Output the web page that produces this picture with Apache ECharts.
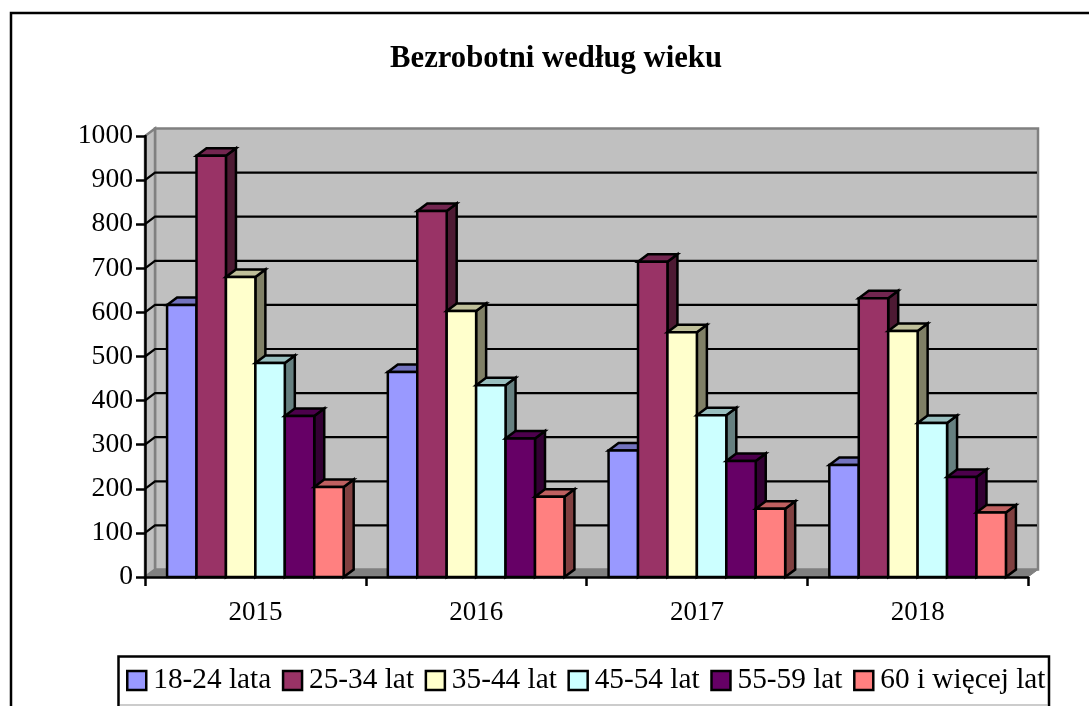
<!DOCTYPE html>
<html>
<head>
<meta charset="utf-8">
<style>
html, body { margin: 0; padding: 0; background: #fff; }
#chart { width: 1089px; height: 706px; }
</style>
<script src="https://cdn.jsdelivr.net/npm/echarts@6/dist/echarts.min.js"></script>
</head>
<body>
<div id="chart"></div>
<script>
var years = ['2015', '2016', '2017', '2018'];
var seriesNames = ['18-24 lata', '25-34 lat', '35-44 lat', '45-54 lat', '55-59 lat', '60 i więcej lat'];
var age18 = [617, 465, 287, 254];
var age25 = [955, 830, 715, 632];
var age35 = [680, 603, 555, 558];
var age45 = [485, 435, 367, 349];
var age55 = [365, 314, 263, 227];
var age60 = [204, 182, 155, 146];
var gridLevels = [100, 200, 300, 400, 500, 600, 700, 800, 900];

var seriesValues = [age18, age25, age35, age45, age55, age60];
var frontColors = ['#9999FF', '#993366', '#FFFFCC', '#CCFFFF', '#660066', '#FF8080'];
var topColors = ['#7373BF', '#732650', '#BFBF99', '#99BFBF', '#4D004D', '#BF6060'];
var sideColors = ['#4D4D80', '#4D1A33', '#808066', '#668080', '#330033', '#804040'];

var FONT = '"Liberation Serif", "Times New Roman", serif';
var DX = 10, DY = -7.5; // 3d depth
var GAP = 1.5; // gap width, in bars

function poly(points, fill, stroke, width) {
	return {
		type: 'polygon',
		shape: { points: points },
		style: { fill: fill, stroke: stroke, lineWidth: width, lineJoin: 'miter' }
	};
}

function renderWalls(params, api) {
	var cs = params.coordSys;
	var l = cs.x, r = cs.x + cs.width, t = cs.y, b = cs.y + cs.height;
	var kids = [
		poly([[l + DX, t + DY], [r + DX, t + DY], [r + DX, b + DY], [l + DX, b + DY]], '#C0C0C0', '#808080', 2.5),
		poly([[l, b], [l + DX, b + DY], [l + DX, t + DY], [l, t]], '#C0C0C0', '#808080', 2.5),
		poly([[l, b], [r, b], [r + DX, b + DY], [l + DX, b + DY]], '#808080', '#808080', 1)
	];
	gridLevels.forEach(function (v) {
		var y = api.coord([0, v])[1];
		kids.push({
			type: 'polyline',
			shape: { points: [[l, y], [l + DX, y + DY], [r + DX - 1, y + DY]] },
			style: { fill: null, stroke: '#000', lineWidth: 2.2 }
		});
	});
	return { type: 'group', children: kids };
}

function renderBar(s) {
	return function (params, api) {
		var band = api.size([1, 0])[0];
		var barW = band / (seriesNames.length + GAP);
		var center = api.coord([api.value(0), 0])[0];
		var x0 = center - band / 2 + barW * (GAP / 2 + s);
		var x1 = x0 + barW;
		var y0 = api.coord([0, 0])[1];
		var y1 = api.coord([0, api.value(1)])[1];
		return {
			type: 'group',
			children: [
				poly([[x1, y0], [x1 + DX, y0 + DY], [x1 + DX, y1 + DY], [x1, y1]], sideColors[s], '#000', 2.5),
				poly([[x0, y1], [x1, y1], [x1 + DX, y1 + DY], [x0 + DX, y1 + DY]], topColors[s], '#000', 2.5),
				poly([[x0, y0], [x1, y0], [x1, y1], [x0, y1]], frontColors[s], '#000', 2.5)
			]
		};
	};
}

var series = [{
	name: 'walls',
	type: 'custom',
	renderItem: renderWalls,
	data: [[0, 0]],
	silent: true,
	z: 1
}];
seriesNames.forEach(function (name, s) {
	series.push({
		name: name,
		type: 'custom',
		renderItem: renderBar(s),
		itemStyle: { color: frontColors[s], borderColor: '#000', borderWidth: 2.5 },
		data: seriesValues[s].map(function (v, i) { return [i, v]; }),
		z: 2 + s
	});
});

var chart = echarts.init(document.getElementById('chart'), null, { renderer: 'canvas' });
var option = {
	animation: false,
	backgroundColor: '#fff',
	textStyle: { fontFamily: FONT, color: '#000' },
	title: {
		text: 'Bezrobotni według wieku',
		left: 551,
		top: 39,
		textAlign: 'center',
		textStyle: { fontFamily: FONT, fontSize: 30.7, fontWeight: 'bold', color: '#000' }
	},
	grid: { left: 145, right: 61, top: 136, bottom: 129 },
	xAxis: {
		type: 'category',
		data: years,
		axisLine: { lineStyle: { color: '#000', width: 2.5 } },
		axisTick: { show: true, alignWithLabel: false, length: 9, lineStyle: { color: '#000', width: 2.5 } },
		axisLabel: { fontFamily: FONT, fontSize: 27, color: '#000', margin: 22 },
		z: 20
	},
	yAxis: {
		type: 'value',
		min: 0,
		max: 1000,
		interval: 100,
		axisLine: { show: true, lineStyle: { color: '#000', width: 2.5 } },
		axisTick: { show: true, length: 9, lineStyle: { color: '#000', width: 2.5 } },
		axisLabel: {
			fontFamily: FONT,
			fontSize: 27.6,
			color: '#000',
			margin: 12,
			formatter: function (v) { return String(v); }
		},
		splitLine: { show: false },
		z: 20
	},
	legend: {
		data: seriesNames,
		left: 126,
		top: 666,
		padding: 0,
		icon: 'rect',
		itemWidth: 19,
		itemHeight: 19,
		itemGap: 10.6,
		selectedMode: false,
		itemStyle: { borderColor: '#000', borderWidth: 2.5 },
		textStyle: { fontFamily: FONT, fontSize: 29.3, color: '#000', padding: [0, 0, 0, 2] }
	},
	graphic: [
		{ type: 'polyline', shape: { points: [[11, 706], [11, 13], [1089, 13]] }, style: { fill: null, stroke: '#000', lineWidth: 2.5 } },
		{ type: 'polyline', shape: { points: [[118.5, 706], [118.5, 656.5], [1049, 656.5], [1049, 706]] }, style: { fill: null, stroke: '#000', lineWidth: 2.5 } },
		{ type: 'line', shape: { x1: 120, y1: 705, x2: 1048, y2: 705 }, style: { stroke: '#999', lineWidth: 1 } }
	],
	series: series
};
chart.setOption(option);
</script>
</body>
</html>
